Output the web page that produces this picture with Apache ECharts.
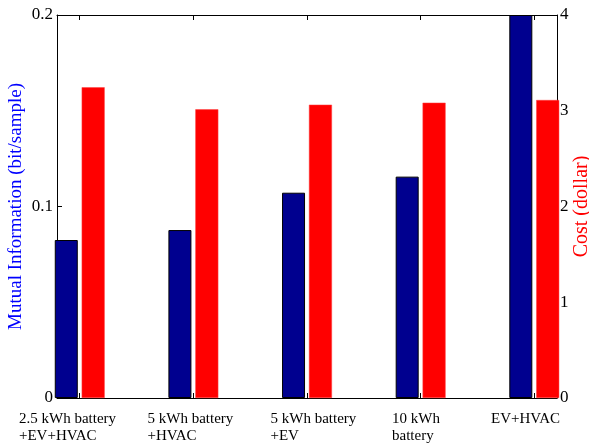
<!DOCTYPE html>
<html>
<head>
<meta charset="utf-8">
<script src="https://cdn.jsdelivr.net/npm/echarts@6/dist/echarts.min.js"></script>
<style>
html,body{margin:0;padding:0;background:#fff;}
#chart{width:589px;height:445px;}
</style>
</head>
<body>
<div id="chart"></div>
<script>
var categories = ['2.5 kWh battery\n+EV+HVAC', '5 kWh battery\n+HVAC', '5 kWh battery\n+EV', '10 kWh\nbattery', 'EV+HVAC'];
var positions = [1, 2, 3, 4, 5];
var mutualInfo = [0.0825, 0.0877, 0.1072, 0.1156, 0.2];
var cost = [3.245, 3.015, 3.063, 3.084, 3.112];
var leftTicks = [0, 0.1, 0.2];
var rightTicks = [0, 1, 2, 3, 4];

var labelLeft = [19, 147.5, 270.5, 392, 491];
var FONT = '"Liberation Serif", "Times New Roman", serif';

var chart = echarts.init(document.getElementById('chart'));

function pairs(vals) {
  return vals.map(function (v, i) { return [positions[i], v]; });
}

var axisCommonX = {
  type: 'value', min: 0.8, max: 5.2, interval: 0.2,
  axisLine: { show: true, onZero: false, lineStyle: { color: '#000', width: 1 } },
  axisTick: { show: true, inside: true, length: 5, customValues: positions, lineStyle: { color: '#000' } },
  axisLabel: { show: false },
  splitLine: { show: false }
};

var option = {
  animation: false,
  backgroundColor: '#fff',
  grid: { left: 57, right: 32, top: 15, bottom: 47, containLabel: false, outerBoundsMode: 'none' },
  xAxis: [
    Object.assign({ position: 'bottom' }, axisCommonX),
    Object.assign({ position: 'top' }, axisCommonX)
  ],
  yAxis: [
    {
      type: 'value', position: 'left', min: 0, max: 0.2, interval: 0.1,
      name: 'Mutual Information (bit/sample)', nameLocation: 'middle', nameGap: 31, nameMoveOverlap: false,
      nameTextStyle: { color: '#0000FF', fontFamily: FONT, fontSize: 19 },
      axisLine: { show: true, lineStyle: { color: '#000', width: 1 } },
      axisTick: { show: true, inside: true, length: 5, customValues: leftTicks, lineStyle: { color: '#000' } },
      axisLabel: { color: '#000', fontFamily: FONT, fontSize: 17, margin: 4, customValues: leftTicks,
        formatter: function (v) { return v === 0 ? '0' : v.toFixed(1); } },
      splitLine: { show: false }
    },
    {
      type: 'value', position: 'right', min: 0, max: 4, interval: 1,
      name: 'Cost (dollar)', nameLocation: 'middle', nameGap: 15, nameMoveOverlap: false,
      nameTextStyle: { color: '#FF0000', fontFamily: FONT, fontSize: 20 },
      axisLine: { show: true, lineStyle: { color: '#000', width: 1 } },
      axisTick: { show: true, inside: true, length: 5, customValues: rightTicks, lineStyle: { color: '#000' } },
      axisLabel: { color: '#000', fontFamily: FONT, fontSize: 17, margin: 3, customValues: rightTicks },
      splitLine: { show: false }
    }
  ],
  series: [
    {
      type: 'bar', xAxisIndex: 0, yAxisIndex: 0, data: pairs(mutualInfo),
      barWidth: 23, clip: true,
      itemStyle: { color: '#00008F', borderColor: '#000', borderWidth: 1 }
    },
    {
      type: 'bar', xAxisIndex: 0, yAxisIndex: 1, data: pairs(cost),
      barWidth: 23, barGap: '17%', clip: true,
      itemStyle: { color: '#FF0000', borderColor: '#FF4040', borderWidth: 0.5 }
    }
  ],
  graphic: categories.map(function (c, i) {
    return {
      type: 'text', left: labelLeft[i], top: 411,
      style: { text: c, fill: '#000', font: '15px ' + FONT, lineHeight: 17 }
    };
  })
};
chart.setOption(option);
</script>
</body>
</html>
